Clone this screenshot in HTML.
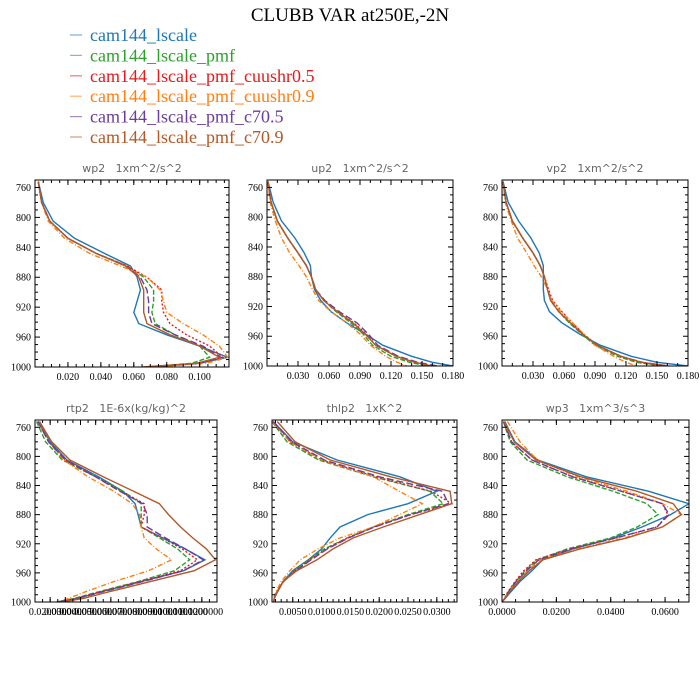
<!DOCTYPE html>
<html><head><meta charset="utf-8"><style>
body{margin:0;background:#fff;width:700px;height:700px;overflow:hidden}
svg{display:block}
text{white-space:pre}
</style></head><body>
<svg id="fig" width="700" height="700" viewBox="0 0 700 700">
<text x="350" y="21" text-anchor="middle" font-family="Liberation Serif, serif" font-size="19">CLUBB VAR at250E,-2N</text>
<g id="legend"></g>
</svg>
<script>
const seriesNames=["cam144_lscale","cam144_lscale_pmf","cam144_lscale_pmf_cuushr0.5","cam144_lscale_pmf_cuushr0.9","cam144_lscale_pmf_c70.5","cam144_lscale_pmf_c70.9"];
const seriesColors=["#1f77b4","#2ca02c","#e41a1c","#ff7f0e","#6a3d9a","#b15928"];
const seriesDash=["","5,2","2,2","5,2,1,2","7,3",""];
const levels=[752,780,805,828,848,865,880,897,912,927,942,957,972,987,995,1000];
const yTicks=[760,800,840,880,920,960,1000];

const wp2Blue=[0.002,0.005,0.011,0.024,0.042,0.058,0.062,0.064,0.062,0.060,0.063,0.080,0.100,0.117,0.100,0.070];
const wp2Green=[0.002,0.004,0.009,0.020,0.037,0.056,0.066,0.072,0.072,0.071,0.073,0.085,0.100,0.106,0.095,0.068];
const wp2Red=[0.002,0.004,0.009,0.020,0.037,0.056,0.068,0.077,0.077,0.078,0.082,0.092,0.106,0.114,0.100,0.070];
const wp2Orange=[0.002,0.004,0.008,0.018,0.033,0.052,0.068,0.076,0.078,0.080,0.090,0.102,0.112,0.117,0.104,0.072];
const wp2Purple=[0.002,0.004,0.009,0.020,0.037,0.055,0.064,0.068,0.069,0.069,0.071,0.085,0.102,0.113,0.099,0.068];
const wp2Brown=[0.002,0.004,0.009,0.020,0.037,0.055,0.063,0.066,0.066,0.066,0.068,0.082,0.100,0.112,0.098,0.065];

const up2Blue=[0.001,0.006,0.014,0.027,0.036,0.042,0.043,0.046,0.052,0.062,0.077,0.095,0.112,0.140,0.160,0.180];
const up2Green=[0.001,0.004,0.010,0.020,0.030,0.038,0.043,0.047,0.055,0.067,0.081,0.093,0.102,0.120,0.138,0.155];
const up2Red=[0.001,0.004,0.010,0.020,0.030,0.038,0.043,0.047,0.055,0.068,0.084,0.096,0.105,0.125,0.142,0.160];
const up2Orange=[0.001,0.003,0.008,0.014,0.022,0.031,0.038,0.044,0.050,0.062,0.077,0.090,0.100,0.115,0.126,0.135];
const up2Purple=[0.001,0.004,0.010,0.020,0.030,0.038,0.043,0.047,0.056,0.070,0.087,0.098,0.107,0.127,0.146,0.165];
const up2Brown=[0.001,0.004,0.010,0.020,0.030,0.038,0.043,0.047,0.055,0.068,0.083,0.095,0.105,0.125,0.143,0.160];

const vp2Blue=[0.001,0.006,0.016,0.028,0.036,0.040,0.040,0.040,0.041,0.046,0.058,0.075,0.095,0.125,0.150,0.180];
const vp2Green=[0.001,0.004,0.010,0.020,0.030,0.037,0.041,0.044,0.047,0.055,0.065,0.077,0.090,0.112,0.130,0.155];
const vp2Red=[0.001,0.004,0.010,0.020,0.030,0.037,0.041,0.045,0.049,0.058,0.068,0.079,0.092,0.115,0.133,0.158];
const vp2Orange=[0.001,0.003,0.009,0.015,0.024,0.031,0.038,0.044,0.048,0.057,0.068,0.079,0.090,0.108,0.120,0.130];
const vp2Purple=[0.001,0.004,0.010,0.020,0.030,0.037,0.041,0.044,0.047,0.055,0.066,0.078,0.092,0.115,0.136,0.162];
const vp2Brown=[0.001,0.004,0.010,0.020,0.030,0.037,0.041,0.044,0.047,0.055,0.066,0.078,0.092,0.115,0.135,0.160];

const rtp2Blue=[0.012,0.020,0.031,0.052,0.068,0.076,0.078,0.080,0.094,0.109,0.122,0.108,0.080,0.052,0.038,0.025];
const rtp2Green=[0.011,0.017,0.028,0.050,0.068,0.080,0.080,0.080,0.092,0.104,0.112,0.102,0.078,0.050,0.036,0.024];
const rtp2Red=[0.012,0.019,0.030,0.050,0.067,0.082,0.082,0.080,0.094,0.107,0.117,0.106,0.079,0.051,0.037,0.025];
const rtp2Orange=[0.012,0.019,0.029,0.045,0.062,0.074,0.079,0.080,0.082,0.090,0.100,0.085,0.062,0.042,0.032,0.025];
const rtp2Purple=[0.012,0.019,0.030,0.050,0.066,0.081,0.084,0.084,0.096,0.109,0.121,0.108,0.081,0.053,0.038,0.025];
const rtp2Brown=[0.013,0.021,0.033,0.055,0.075,0.092,0.098,0.106,0.114,0.123,0.129,0.115,0.086,0.057,0.042,0.028];

const thlp2Blue=[0.0016,0.0050,0.0127,0.0236,0.0300,0.0250,0.0180,0.0132,0.0115,0.0100,0.0077,0.0050,0.0033,0.0023,0.0018,0.0017];
const thlp2Green=[0.0014,0.0040,0.0095,0.0190,0.0288,0.0311,0.0250,0.0190,0.0145,0.0105,0.0078,0.0052,0.0033,0.0022,0.0018,0.0017];
const thlp2Red=[0.0015,0.0045,0.0100,0.0195,0.0290,0.0326,0.0255,0.0190,0.0145,0.0108,0.0080,0.0054,0.0034,0.0022,0.0018,0.0017];
const thlp2Orange=[0.0015,0.0045,0.0100,0.0190,0.0235,0.0275,0.0235,0.0190,0.0132,0.0094,0.0063,0.0045,0.0030,0.0020,0.0017,0.0016];
const thlp2Purple=[0.0016,0.0048,0.0105,0.0200,0.0310,0.0320,0.0255,0.0192,0.0147,0.0110,0.0082,0.0055,0.0034,0.0022,0.0018,0.0017];
const thlp2Brown=[0.0023,0.0054,0.0115,0.0220,0.0323,0.0326,0.0270,0.0207,0.0155,0.0120,0.0092,0.0057,0.0033,0.0022,0.0018,0.0017];

const wp3Blue=[0.0010,0.0048,0.0132,0.0310,0.0540,0.0688,0.0620,0.0515,0.0410,0.0260,0.0150,0.0110,0.0066,0.0030,0.0012,0.0000];
const wp3Green=[0.0005,0.0030,0.0092,0.0240,0.0410,0.0533,0.0574,0.0497,0.0400,0.0240,0.0129,0.0085,0.0050,0.0022,0.0010,0.0000];
const wp3Red=[0.0006,0.0035,0.0110,0.0260,0.0440,0.0590,0.0610,0.0570,0.0420,0.0250,0.0125,0.0080,0.0048,0.0020,0.0010,0.0000];
const wp3Orange=[0.0020,0.0066,0.0130,0.0280,0.0460,0.0590,0.0660,0.0590,0.0450,0.0280,0.0140,0.0095,0.0055,0.0025,0.0010,0.0000];
const wp3Purple=[0.0006,0.0035,0.0110,0.0260,0.0440,0.0590,0.0615,0.0570,0.0420,0.0255,0.0135,0.0090,0.0052,0.0022,0.0010,0.0000];
const wp3Brown=[0.0008,0.0045,0.0125,0.0290,0.0497,0.0630,0.0660,0.0590,0.0460,0.0287,0.0150,0.0100,0.0060,0.0026,0.0011,0.0000];

const wp2XTicks=[0.020,0.040,0.060,0.080,0.100];
const upvpXTicks=[0.030,0.060,0.090,0.120,0.150,0.180];
const rtp2XTicks=[0.02,0.03,0.04,0.05,0.06,0.07,0.08,0.09,0.10,0.11,0.12];
const thlp2XTicks=[0.005,0.010,0.015,0.020,0.025,0.030];
const wp3XTicks=[0.0,0.02,0.04,0.06];

const NS="http://www.w3.org/2000/svg";
const svg=document.getElementById('fig');
function mk(tag,attrs,parent){const e=document.createElementNS(NS,tag);for(const k in attrs)e.setAttribute(k,attrs[k]);(parent||svg).appendChild(e);return e;}

const lg=document.getElementById('legend');
seriesNames.forEach((n,i)=>{
  const y=35+i*20.4;
  const l=mk('line',{x1:70,x2:82,y1:y,y2:y,stroke:seriesColors[i],'stroke-width':1.2,opacity:0.6},lg);
  
  
  const t=mk('text',{x:90,y:y+6,fill:seriesColors[i],'font-family':'Liberation Serif, serif','font-size':18},lg);
  t.textContent=n;
  
  
});

const panels=[
 {name:'wp2',title:'wp2   1xm^2/s^2',x0:35,x1:229,y0:180,y1:367,d:[0,0.1178],ticks:wp2XTicks,fmt:v=>v.toFixed(3),minor:0.005,series:[wp2Blue,wp2Green,wp2Red,wp2Orange,wp2Purple,wp2Brown]},
 {name:'up2',title:'up2   1xm^2/s^2',x0:267,x1:453,y0:180,y1:366,d:[0,0.18],ticks:upvpXTicks,fmt:v=>v.toFixed(3),minor:0.01,series:[up2Blue,up2Green,up2Red,up2Orange,up2Purple,up2Brown]},
 {name:'vp2',title:'vp2   1xm^2/s^2',x0:502,x1:688,y0:180,y1:366,d:[0,0.18],ticks:upvpXTicks,fmt:v=>v.toFixed(3),minor:0.01,series:[vp2Blue,vp2Green,vp2Red,vp2Orange,vp2Purple,vp2Brown]},
 {name:'rtp2',title:'rtp2   1E-6x(kg/kg)^2',x0:35,x1:217,y0:420,y1:602,d:[0.01,0.13],ticks:rtp2XTicks,fmt:v=>v.toFixed(7),minor:0.005,series:[rtp2Blue,rtp2Green,rtp2Red,rtp2Orange,rtp2Purple,rtp2Brown]},
 {name:'thlp2',title:'thlp2   1xK^2',x0:272,x1:457,y0:420,y1:602,d:[0.0014,0.0335],ticks:thlp2XTicks,fmt:v=>v.toFixed(4),minor:0.001,series:[thlp2Blue,thlp2Green,thlp2Red,thlp2Orange,thlp2Purple,thlp2Brown]},
 {name:'wp3',title:'wp3   1xm^3/s^3',x0:502,x1:689,y0:420,y1:602,d:[0,0.0688],ticks:wp3XTicks,fmt:v=>v.toFixed(4),minor:0.005,series:[wp3Blue,wp3Green,wp3Red,wp3Orange,wp3Purple,wp3Brown]}
];
const P0=750,P1=1000;
panels.forEach(p=>{
  const g=mk('g',{});
  
  
  const X=v=>p.x0+(v-p.d[0])/(p.d[1]-p.d[0])*(p.x1-p.x0);
  const Y=v=>p.y0+(v-P0)/(P1-P0)*(p.y1-p.y0);
  const t=mk('text',{x:(p.x0+p.x1)/2,y:p.y0-8,'text-anchor':'middle','font-family':'DejaVu Sans, sans-serif','font-size':11,fill:'#666'},g);
  t.textContent=p.title;
  
  
  const cp='clip-'+p.name;
  const c=mk('clipPath',{id:cp},g);mk('rect',{x:p.x0,y:p.y0,width:p.x1-p.x0,height:p.y1-p.y0},c);
  const sg=mk('g',{'clip-path':'url(#'+cp+')'},g);
  p.series.forEach((vals,i)=>{
    const pts=vals.map((v,j)=>X(v).toFixed(1)+','+Y(levels[j]).toFixed(1)).join(' ');
    const pl=mk('polyline',{points:pts,fill:'none',stroke:seriesColors[i],'stroke-width':1.4,'stroke-dasharray':seriesDash[i]},sg);
    
    
  });
  const fr=mk('rect',{x:p.x0,y:p.y0,width:p.x1-p.x0,height:p.y1-p.y0,fill:'none',stroke:'#000','stroke-width':1},g);
  
  
  for(let v=760;v<=1000;v+=10){
    const y=Y(v);const L=(v%40===0)?5:3;
    mk('line',{x1:p.x0,x2:p.x0+L,y1:y,y2:y,stroke:'#000'},g);
    mk('line',{x1:p.x1,x2:p.x1-L,y1:y,y2:y,stroke:'#000'},g);
  }
  yTicks.forEach(v=>{
    const tt=mk('text',{x:p.x0-4,y:Y(v)+3.5,'text-anchor':'end','font-family':'Liberation Serif, serif','font-size':10},g);
    tt.textContent=v;
    
    
  });
  for(let v=Math.ceil(p.d[0]/p.minor)*p.minor;v<=p.d[1]+1e-9;v+=p.minor){
    const x=X(v);
    mk('line',{x1:x,x2:x,y1:p.y1,y2:p.y1-3,stroke:'#000'},g);
    mk('line',{x1:x,x2:x,y1:p.y0,y2:p.y0+3,stroke:'#000'},g);
  }
  p.ticks.forEach(v=>{
    const x=X(v);
    mk('line',{x1:x,x2:x,y1:p.y1,y2:p.y1-5,stroke:'#000'},g);
    mk('line',{x1:x,x2:x,y1:p.y0,y2:p.y0+5,stroke:'#000'},g);
    const tt=mk('text',{x:x,y:p.y1+13,'text-anchor':'middle','font-family':'Liberation Serif, serif','font-size':10},g);
    tt.textContent=p.fmt(v);
    
    
  });
});
</script>
</body></html>
